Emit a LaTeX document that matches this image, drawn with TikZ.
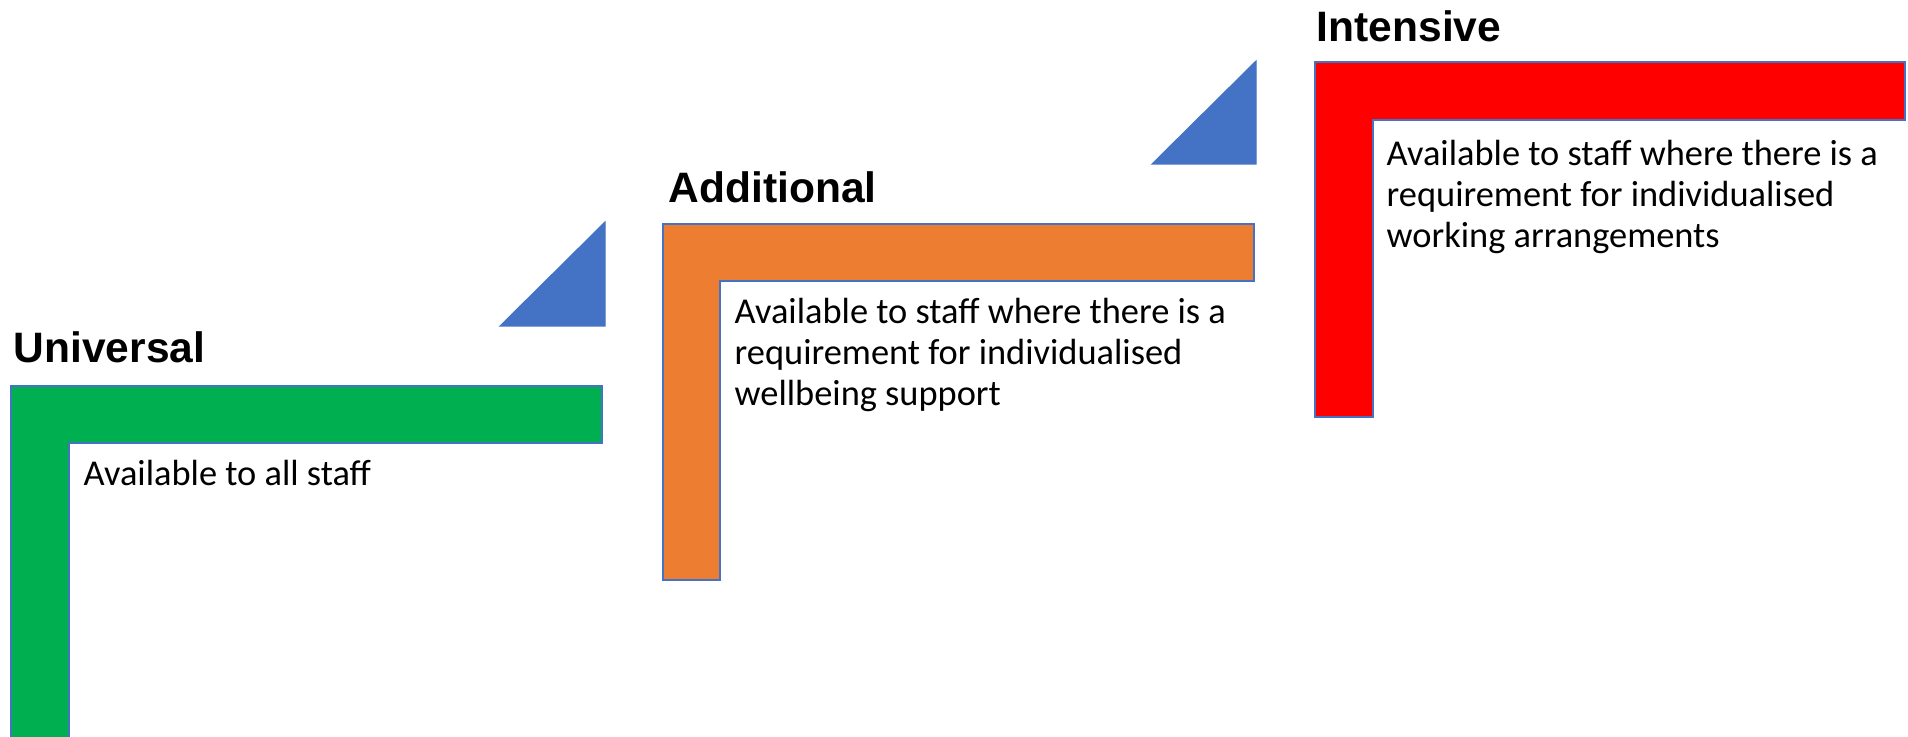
\documentclass[tikz,border=0pt]{standalone}
\usepackage{fontspec}
\setmainfont{Carlito}
\newfontfamily\titrefont{Liberation Sans}
\usepackage{tikz}
\definecolor{bleu}{HTML}{4472C4}
\definecolor{vert}{HTML}{00B050}
\definecolor{orange}{HTML}{ED7D31}
\definecolor{rouge}{HTML}{FF0000}
\tikzset{
Palier/.style={
 draw=bleu, 
 line width=0.8pt, 
 line join=miter, 
 fill=#1
 },
Coin/.style={
 draw=bleu, 
 fill=bleu, 
 line width=0.3pt
 },
Titre/.style={
 anchor=base west, 
 inner sep=0pt, 
 font=\titrefont\bfseries\fontsize{12.1}{14.5}\selectfont
 },
Texte/.style={
 anchor=base west, 
 inner sep=0pt, 
 align=left, 
 font=\fontsize{10.35}{11.7}\selectfont
 }
}

\begin{document}
\begin{tikzpicture}[x=0.01cm,y=-0.01cm]
\useasboundingbox (0,0) rectangle (1908,737);
\clip (0,0) rectangle (1908,737);
\draw[Palier=vert] (11,386) -- (602,386) -- (602,443) -- (69,443) -- (69,760) -- (11,760) -- cycle;
\draw[Palier=orange] (663,224) -- (1254,224) -- (1254,281) -- (720,281) -- (720,580) -- (663,580) -- cycle;
\draw[Palier=rouge] (1315,62) -- (1905,62) -- (1905,120) -- (1373,120) -- (1373,417) -- (1315,417) -- cycle;
\filldraw[Coin] (500,326) -- (605,326) -- (605,222) -- cycle;
\filldraw[Coin] (1152,164) -- (1256,164) -- (1256,61) -- cycle;
\node[Titre] (universal) at (13,363) {Universal};
\node[Titre] (additional) at (668,203) {Additional};
\node[Titre] (intensive) at (1316,42) {Intensive};
% base of a multi-line node sits on its last line
\node[Texte] (tous) at (83,486) {Available to all staff};
\node[Texte] (soutien) at (734,406) {Available to staff where there is a\\requirement for individualised\\wellbeing support};
\node[Texte] (amenagement) at (1386,248) {Available to staff where there is a\\requirement for individualised\\working arrangements};
\end{tikzpicture}
\end{document}
